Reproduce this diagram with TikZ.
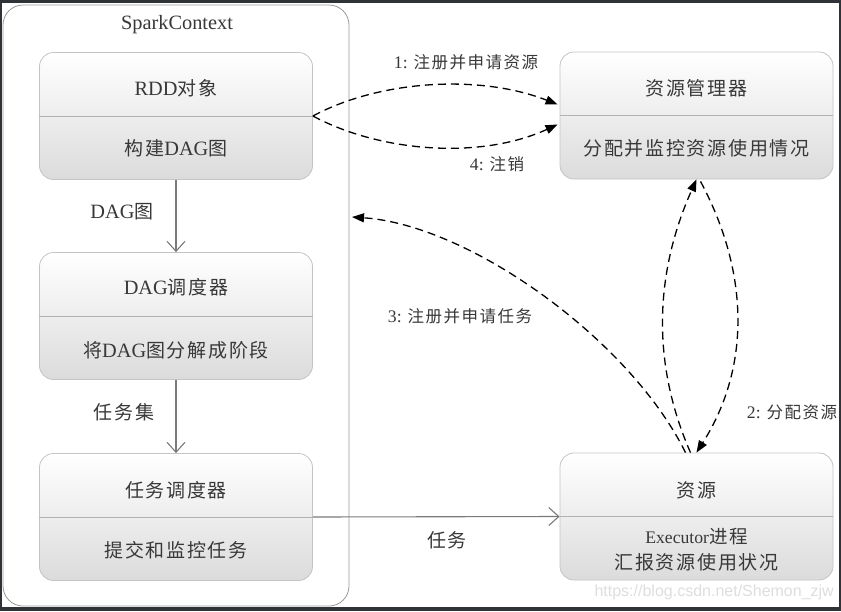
\documentclass[tikz,border=0pt]{standalone}
\usepackage{fontspec}
\setmainfont[Scale=1.07]{Liberation Serif}
\newfontfamily\cjk[LetterSpace=9]{Noto Sans CJK SC}
\newfontfamily\wmfont{Liberation Sans}
\usetikzlibrary{arrows.meta,shadings,calc}
\definecolor{frame}{HTML}{2F3337}
\definecolor{txt}{HTML}{383838}
\definecolor{boxline}{HTML}{C4C4C4}
\definecolor{flowgray}{HTML}{7A7A7A}
\tikzset{
  x=1pt, y=-1pt,
  splitbox/.style={draw=boxline, line width=0.8pt, rounded corners=14pt,
    top color=white, bottom color=black!14, minimum width=273pt, minimum height=127pt, inner sep=0pt},
  divider/.style={draw=black!30, line width=0.8pt},
  lbl/.style={text=txt, font=\fontsize{19}{21}\selectfont, inner sep=0pt},
  small/.style={text=txt, font=\fontsize{16.5}{19}\selectfont, inner sep=0pt},
  flow/.style={draw=flowgray, line width=1.1pt, -{Straight Barb[length=10pt,width=18pt]}},
  dflow/.style={draw=black, line width=1.3pt, dash pattern=on 8pt off 5pt, -{Triangle[length=12pt,width=9pt]}},
}
\begin{document}
\begin{tikzpicture}
\useasboundingbox (0,0) rectangle (841,611);
\fill[frame] (0,0) rectangle (841,611);
\fill[white] (2,3) rectangle (839,607);
% SparkContext container
\node[draw=black!40, line width=0.8pt, rounded corners=20pt, minimum width=346pt, minimum height=601pt, inner sep=0pt] (sc) at (176,305.5) {};
\node[lbl] (sctitle) at (177,25) {SparkContext};
% boxes
\node[splitbox] (rdd) at (176,116) {};
\draw[divider] (rdd.west) -- (rdd.east);
\node[lbl] (rddt) at (176,88) {RDD{\cjk 对象}};
\node[lbl] (rddb) at (176,148) {{\cjk 构建}DAG{\cjk 图}};

\node[splitbox] (dag) at (176,316) {};
\draw[divider] (dag.west) -- (dag.east);
\node[lbl] (dagt) at (176,287) {DAG{\cjk 调度器}};
\node[lbl] (dagb) at (176,350) {{\cjk 将}DAG{\cjk 图分解成阶段}};

\node[splitbox] (ts) at (176,517) {};
\draw[divider] (ts.west) -- (ts.east);
\node[lbl] (tst) at (176,490) {\cjk 任务调度器};
\node[lbl] (tsb) at (176,550) {\cjk 提交和监控任务};

\node[splitbox] (rm) at (696.5,115.5) {};
\draw[divider] (rm.west) -- (rm.east);
\node[lbl] (rmt) at (696.5,88) {\cjk 资源管理器};
\node[lbl] (rmb) at (696.5,148) {\cjk 分配并监控资源使用情况};

\node[splitbox] (res) at (696.5,516.5) {};
\draw[divider] (res.west) -- (res.east);
\node[lbl] (rest) at (696.5,490) {\cjk 资源};
\node[lbl, font=\fontsize{16.5}{19}\selectfont] (resb1) at (696.5,537) {Executor{\fontsize{18.5}{20}\selectfont\cjk 进程}};
\node[lbl] (resb2) at (696.5,562) {\cjk 汇报资源使用状况};

% solid flows
\draw[flow] (rdd.south) -- (dag.north);
\draw[flow] (dag.south) -- (ts.north);
\draw[flow] (ts.east) -- (res.west);
\node[lbl] (l1) at (122,212) {DAG{\cjk 图}};
\node[lbl] (l2) at (124,412) {\cjk 任务集};
\node[lbl] (l3) at (447,540) {\cjk 任务};

% dashed flows
\coordinate (rmin1) at ($(rm.west)+(-2,-11)$);
\coordinate (rmin2) at ($(rm.west)+(-2,9)$);
\draw[dflow] (rdd.east) .. controls (380,80) and (480,74) .. (rmin1);
\draw[dflow] (rdd.east) .. controls (380,152) and (480,160) .. (rmin2);
\node[small] (n1) at (466,62) {1: {\cjk 注册并申请资源}};
\node[small] (n4) at (497,164) {4: {\cjk 注销}};

\coordinate (scin) at (352,217);
\coordinate (r3) at ($(res.north)+(-11,0)$);
\draw[dflow] (r3) .. controls (630,340) and (470,225) .. (scin);
\node[small] (n3) at (460,316) {3: {\cjk 注册并申请任务}};

\coordinate (rl) at ($(res.north)+(-6,0)$);
\coordinate (rmb0) at ($(rm.south)+(4,2)$);
\draw[dflow] (rl) .. controls (650,360) and (656,270) .. (rm.south);
\draw[dflow] (rmb0) .. controls (748,270) and (752,365) .. (res.north);
\node[small] (n2) at (792,412) {2: {\cjk 分配资源}};

% watermark
\node[text=black!13, font=\wmfont\fontsize{16}{18}\selectfont, inner sep=0pt, anchor=east] (wm) at (834,592) {https://blog.csdn.net/Shemon\_zjw};
\end{tikzpicture}
\end{document}
